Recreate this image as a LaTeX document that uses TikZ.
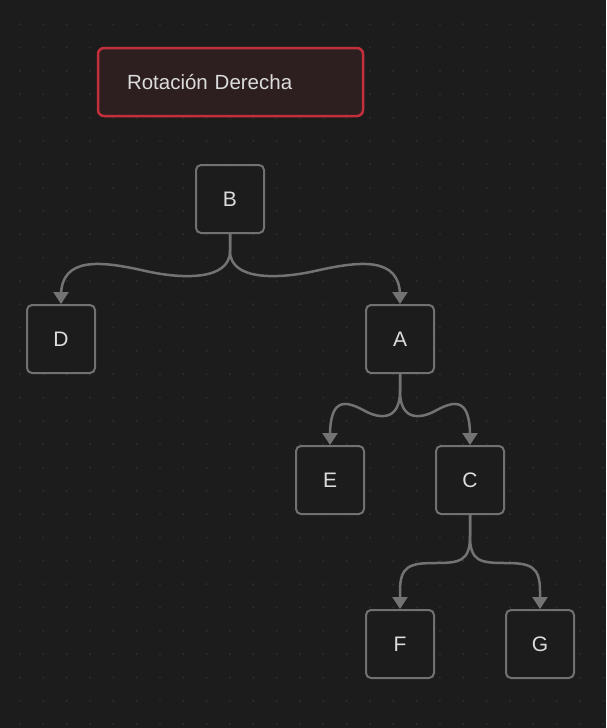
\documentclass[tikz,border=0pt]{standalone}
\usepackage{fontspec}
\setmainfont{Liberation Sans}
\usepackage{xcolor}
\usetikzlibrary{calc,arrows.meta}

\definecolor{bgDark}{HTML}{1C1C1C}
\definecolor{gridDot}{HTML}{2E2E2E}
\definecolor{boxLine}{HTML}{717171}
\definecolor{edgeGray}{HTML}{737373}
\definecolor{labelText}{HTML}{DCDCDC}
\definecolor{titleLine}{HTML}{C3303C}
\definecolor{titleFill}{HTML}{2D1E1F}

\tikzset{
    treenode/.style={draw=boxLine, fill=bgDark, line width=2pt, rounded corners=5pt,
        minimum width=68pt, minimum height=68pt, inner sep=0pt, text=labelText,
        font=\fontsize{21}{24}\selectfont},
    titlebox/.style={draw=titleLine, fill=titleFill, line width=2.5pt, rounded corners=6pt,
        minimum height=68pt, inner xsep=29pt, text width=207pt, align=left,
        text=labelText, font=\fontsize{20.5}{24}\selectfont},
    edge/.style={draw=edgeGray, line width=2.5pt,
        -{Triangle[length=12pt,width=15pt]}},
    % short wavy branch
    branch/.style={to path={
        let \p1=(\tikztostart), \p2=(\tikztotarget), \p3=($(\p2)-(\p1)$) in
        -- (\x1,\y1-17pt)
        .. controls (\x1,\y1-47pt) and (\x1+0.29*\x3,\y1-45pt) .. (\x1+0.5*\x3,\y1-37pt)
        .. controls (\x1+0.76*\x3,\y1-27pt) and (\x2,\y1-22pt) .. (\x2,\y1-62pt)
        -- (\tikztotarget)}},
    % longer flat branch
    branchlong/.style={to path={
        let \p1=(\tikztostart), \p2=(\tikztotarget), \p3=($(\p2)-(\p1)$) in
        -- (\x1,\y1-21pt)
        .. controls (\x1,\y1-46pt) and (\x1+0.14*\x3,\y1-48pt) .. (\x1+0.5*\x3,\y1-48pt)
        .. controls (\x1+0.86*\x3,\y1-48pt) and (\x2,\y1-51pt) .. (\x2,\y1-76pt)
        -- (\tikztotarget)}}
}

\begin{document}
\begin{tikzpicture}[x=1pt, y=-1pt]
    % Background and dot grid
    \fill[bgDark] (0,0) rectangle (606,728);
    \useasboundingbox (0,0) rectangle (606,728);
    \foreach \i in {0,...,25}
        \foreach \j in {0,...,30}
            \fill[gridDot] (20+23.33*\i, 24.3+23.33*\j) circle (1.1pt);

    % Title
    \node[titlebox] (title) at (230.5,82) {Rotación Derecha};

    % Tree nodes
    \node[treenode] (B) at (230,199) {B};
    \node[treenode] (D) at (61,339) {D};
    \node[treenode] (A) at (400,339) {A};
    \node[treenode] (E) at (330,480) {E};
    \node[treenode] (C) at (470,480) {C};
    \node[treenode] (F) at (400,644) {F};
    \node[treenode] (G) at (540,644) {G};

    % Edges
    \draw[edge] (B.south) to[branch] (D.north);
    \draw[edge] (B.south) to[branch] (A.north);
    \draw[edge] (A.south) to[branch] (E.north);
    \draw[edge] (A.south) to[branch] (C.north);
    \draw[edge] (C.south) to[branchlong] (F.north);
    \draw[edge] (C.south) to[branchlong] (G.north);
\end{tikzpicture}
\end{document}
